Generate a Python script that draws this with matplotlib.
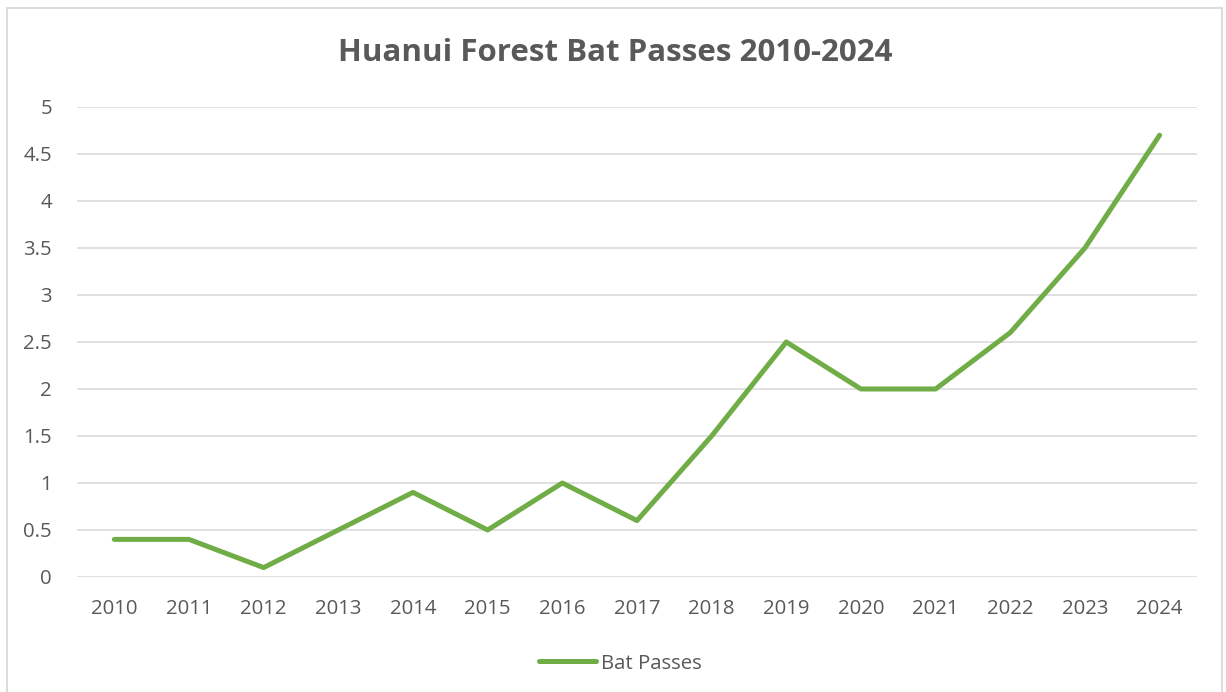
import matplotlib.pyplot as plt
from matplotlib.patches import Rectangle

# Bat passes per year
years = ['2010', '2011', '2012', '2013', '2014', '2015', '2016', '2017',
         '2018', '2019', '2020', '2021', '2022', '2023', '2024']
bat_passes = [0.4, 0.4, 0.1, 0.5, 0.9, 0.5, 1.0, 0.6,
              1.5, 2.5, 2.0, 2.0, 2.6, 3.5, 4.7]
y_ticks = [0, 0.5, 1, 1.5, 2, 2.5, 3, 3.5, 4, 4.5, 5]
y_labels = ['0', '0.5', '1', '1.5', '2', '2.5', '3', '3.5', '4', '4.5', '5']

plt.rcParams['font.family'] = ['Open Sans', 'DejaVu Sans']
text_grey = '#595959'
grid_grey = '#D9D9D9'
green = '#70AD47'

fig = plt.figure(figsize=(12.26, 6.92), dpi=100)
ax = fig.add_axes([0.0628, 0.1662, 0.9135, 0.6792])

x = list(range(len(years)))
ax.plot(x, bat_passes, color=green, linewidth=3.6, solid_capstyle='round',
        solid_joinstyle='round', label='Bat Passes', zorder=3)

ax.set_xlim(-0.5, len(years) - 0.5)
ax.set_ylim(0, 5)
ax.set_xticks(x)
ax.set_xticklabels(years)
ax.set_yticks(y_ticks)
ax.set_yticklabels(y_labels)
ax.tick_params(axis='both', length=0, labelsize=14.7, colors=text_grey)
ax.tick_params(axis='x', pad=16)
ax.tick_params(axis='y', pad=18)
ax.grid(axis='y', color=grid_grey, linewidth=1.1)
ax.set_axisbelow(True)
for s in ax.spines.values():
    s.set_visible(False)

fig.text(0.502, 0.924, 'Huanui Forest Bat Passes 2010-2024', ha='center', va='center',
         fontsize=22.5, fontweight='bold', color=text_grey)

leg = fig.legend(loc='center', bbox_to_anchor=(0.506, 0.041), frameon=False,
                 fontsize=14.7, handlelength=2.8, handletextpad=0.25)
for t in leg.get_texts():
    t.set_color(text_grey)

# outer chart border
fig.patches.append(Rectangle((7 / 1226, -0.02), 1215 / 1226, (692 - 8) / 692 + 0.02,
                             transform=fig.transFigure, fill=False,
                             edgecolor=grid_grey, linewidth=1.3))

fig.savefig('out.png', dpi=100)
